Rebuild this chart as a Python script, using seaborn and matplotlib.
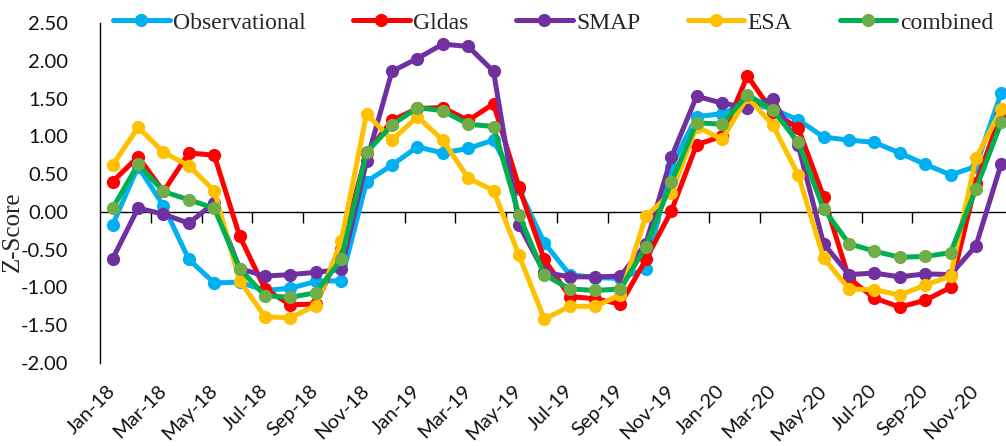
import numpy as np
import pandas as pd
import matplotlib
matplotlib.use("Agg")
import matplotlib.pyplot as plt
import seaborn as sns

months = ["Jan-18", "Feb-18", "Mar-18", "Apr-18", "May-18", "Jun-18",
          "Jul-18", "Aug-18", "Sep-18", "Oct-18", "Nov-18", "Dec-18",
          "Jan-19", "Feb-19", "Mar-19", "Apr-19", "May-19", "Jun-19",
          "Jul-19", "Aug-19", "Sep-19", "Oct-19", "Nov-19", "Dec-19",
          "Jan-20", "Feb-20", "Mar-20", "Apr-20", "May-20", "Jun-20",
          "Jul-20", "Aug-20", "Sep-20", "Oct-20", "Nov-20", "Dec-20"]

observational = [-0.17, 0.60, 0.08, -0.63, -0.94, -0.93, -1.04, -1.01, -0.92, -0.91, 0.40, 0.62,
                 0.86, 0.78, 0.84, 0.95, 0.30, -0.41, -0.83, -0.87, -0.88, -0.75, 0.60, 1.26,
                 1.30, 1.45, 1.36, 1.22, 0.99, 0.95, 0.92, 0.78, 0.63, 0.49, 0.60, 1.58]
gldas = [0.40, 0.73, 0.27, 0.78, 0.75, -0.32, -1.02, -1.23, -1.22, -0.49, 0.78, 1.21,
         1.37, 1.38, 1.21, 1.43, 0.33, -0.63, -1.12, -1.15, -1.22, -0.63, 0.01, 0.89,
         1.00, 1.80, 1.32, 1.11, 0.20, -0.88, -1.14, -1.26, -1.17, -1.00, 0.38, 1.30]
smap = [-0.62, 0.05, -0.03, -0.15, 0.12, -0.75, -0.85, -0.83, -0.80, -0.76, 0.67, 1.86,
        2.03, 2.22, 2.19, 1.86, -0.17, -0.80, -0.86, -0.86, -0.85, -0.42, 0.72, 1.53,
        1.44, 1.38, 1.50, 0.88, -0.42, -0.83, -0.81, -0.86, -0.82, -0.83, -0.45, 0.64]
esa = [0.62, 1.12, 0.79, 0.61, 0.28, -0.91, -1.39, -1.40, -1.24, -0.39, 1.30, 0.95,
       1.26, 0.95, 0.45, 0.28, -0.57, -1.42, -1.25, -1.25, -1.10, -0.06, 0.25, 1.13,
       0.96, 1.52, 1.15, 0.49, -0.61, -1.02, -1.03, -1.10, -0.97, -0.85, 0.71, 1.36]
combined = [0.05, 0.63, 0.27, 0.16, 0.05, -0.75, -1.11, -1.13, -1.07, -0.63, 0.79, 1.15,
            1.38, 1.34, 1.16, 1.13, -0.04, -0.83, -1.02, -1.04, -1.02, -0.46, 0.39, 1.18,
            1.16, 1.55, 1.35, 0.92, 0.04, -0.42, -0.52, -0.60, -0.59, -0.54, 0.30, 1.19]

series_names = ["Observational", "Gldas", "SMAP", "ESA", "combined"]
series_values = [observational, gldas, smap, esa, combined]
line_colors = ["#00B0F0", "#FF0000", "#7030A0", "#FFC000", "#00B050"]
marker_colors = ["#00B0F0", "#FF0000", "#7030A0", "#FFC000", "#70AD47"]

y_ticks = [-2.0, -1.5, -1.0, -0.5, 0.0, 0.5, 1.0, 1.5, 2.0, 2.5]

df = pd.DataFrame({
    "idx": np.tile(np.arange(len(months)), len(series_names)),
    "month": months * len(series_names),
    "series": np.repeat(series_names, len(months)),
    "z": np.concatenate(series_values),
})

sns.set_style("white")
plt.rcParams["font.family"] = ["Lato", "DejaVu Sans"]

W, H = 1006, 446
fig = plt.figure(figsize=(W / 100, H / 100), dpi=100)
ax = fig.add_axes([100 / W, 83 / H, 914 / W, 340 / H])

for name, lc, mc in zip(series_names, line_colors, marker_colors):
    sub = df[df["series"] == name]
    sns.lineplot(data=sub, x="idx", y="z", ax=ax, sort=False,
                 color=lc, linewidth=3.6, marker="o", markersize=9.5,
                 markerfacecolor=mc, markeredgecolor=mc, markeredgewidth=0,
                 label=name, legend=False)

ax.set_xlim(-0.5, len(months) - 0.5)
ax.set_ylim(y_ticks[0], y_ticks[-1])

# Category labels every second month, hanging below the plot area
ax.set_xticks(np.arange(0, len(months), 2))
ax.set_xticklabels(months[::2], rotation=45, ha="right", va="center",
                   rotation_mode="anchor", fontsize=14.5, color="#111111")
ax.tick_params(axis="x", length=0, pad=18)

ax.set_yticks(y_ticks)
ax.set_yticklabels([f"{v:.2f}" for v in y_ticks], fontsize=14.5, color="#111111")
ax.tick_params(axis="y", length=0, pad=23)

ax.set_xlabel("")
ax.set_ylabel("Z-Score", family=["Liberation Serif"], fontsize=18, va="center")
ax.yaxis.set_label_coords((13 - 100) / 914, 0.385)

for side in ("top", "right", "bottom"):
    ax.spines[side].set_visible(False)
ax.spines["left"].set_color("#000000")
ax.spines["left"].set_linewidth(1.0)

# Horizontal axis line crossing at zero, with ticks between month pairs
zero_axis = ax.secondary_xaxis(0.0, transform=ax.transData)
zero_axis.set_xticks(np.arange(1.5, len(months), 2))
zero_axis.set_xticklabels([])
zero_axis.tick_params(axis="x", direction="out", length=8, width=1, color="#000000")
zero_axis.spines["bottom"].set_color("#000000")
zero_axis.spines["bottom"].set_linewidth(1.0)

handles, labels = ax.get_legend_handles_labels()
fig.legend(handles, labels, loc="center", bbox_to_anchor=(553 / W, 1 - 23 / H),
           ncol=5, frameon=False, handlelength=2.4, handletextpad=0.15,
           columnspacing=2.0, prop={"family": "Liberation Serif", "size": 17})

fig.savefig("out.png", dpi=100)
